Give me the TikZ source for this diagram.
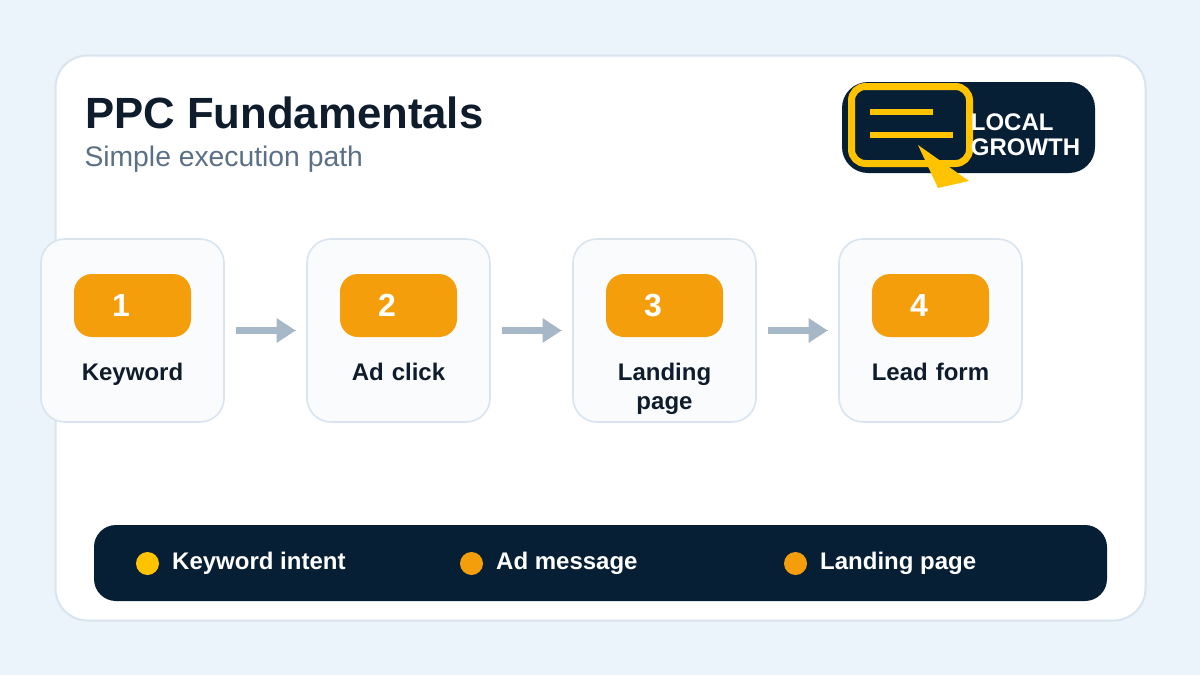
\documentclass[tikz,border=0pt]{standalone}
\usepackage{fontspec}
\setmainfont{Liberation Sans}
\usetikzlibrary{arrows.meta}
\definecolor{bgc}{HTML}{EBF3FB}
\definecolor{edgec}{HTML}{D9E4EF}
\definecolor{cardc}{HTML}{F9FBFD}
\definecolor{navy}{HTML}{071F35}
\definecolor{ink}{HTML}{0F1C2C}
\definecolor{subc}{HTML}{5B7086}
\definecolor{amber}{HTML}{F59E0B}
\definecolor{gold}{HTML}{FFC300}
\definecolor{arrowc}{HTML}{A6B7C7}
\tikzset{
 x=1pt,y=-1pt,
 card/.style={draw=edgec,line width=1.6pt,fill=cardc,rounded corners=24pt,minimum width=183pt,minimum height=183pt,inner sep=0pt,outer sep=0pt},
 badge/.style={fill=amber,rounded corners=18pt,minimum width=117pt,minimum height=63pt,inner sep=0pt,outer sep=0pt},
 num/.style={text=white,font=\bfseries\fontsize{32}{32}\selectfont,inner sep=0pt,anchor=base},
 lab/.style={text=ink,font=\bfseries\fontsize{24}{29.5}\selectfont,inner sep=0pt,align=center,anchor=base,text width=170pt},
 flow/.style={draw=arrowc,line width=6.5pt,-{Triangle[length=19pt,width=25pt,line width=0pt,fill=arrowc]},shorten <=12pt,shorten >=11.5pt,preaction={draw=arrowc,-}},
 legt/.style={text=white,font=\bfseries\fontsize{24}{24}\selectfont,inner sep=0pt,anchor=base west},
 dot/.style={circle,minimum size=23pt,inner sep=0pt,outer sep=0pt},
 logot/.style={text=white,font=\bfseries\fontsize{24}{24}\selectfont,inner sep=0pt,anchor=base west},
}
\begin{document}
\begin{tikzpicture}
\useasboundingbox (0,0) rectangle (1200,675);
\fill[bgc] (0,0) rectangle (1200,675);
\node[draw=edgec,line width=2pt,fill=white,rounded corners=32pt,minimum width=1090pt,minimum height=565pt,inner sep=0pt,outer sep=0pt] (panel) at (600.5,338) {};
\node[inner sep=0pt,anchor=base west,text=ink,font=\bfseries\fontsize{43.7}{44}\selectfont] (title) at (85,128) {PPC Fundamentals};
\node[inner sep=0pt,anchor=base west,text=subc,font=\fontsize{28.3}{28}\selectfont] (subtitle) at (84.3,166.2) {Simple execution path};
% logo
\node[fill=navy,rounded corners=26pt,minimum width=253pt,minimum height=91pt,inner sep=0pt,outer sep=0pt] (logo) at (968.5,127.5) {};
\node[draw=gold,line width=7pt,rounded corners=14pt,minimum width=118pt,minimum height=77pt,inner sep=0pt,outer sep=0pt] (screen) at (910.5,125) {};
\fill[gold] (870,109) rectangle (933,115);
\fill[gold] (870,132) rectangle (953,138);
\fill[gold] (918,145) -- (969,181) -- (938,188) -- cycle;
\node[logot] (logoa) at (970.7,130) {LOCAL};
\node[logot] (logob) at (970.7,155.5) {GROWTH};
% cards
\foreach \i/\cx/\t in {1/132.5/Keyword,2/398.5/Ad click,3/664.5/Landing\\page,4/930.5/Lead form}{
 \node[card] (card\i) at (\cx,330.5) {};
 \node[badge] (badge\i) at (\cx,305.5) {};
 \node[num] (num\i) at ({\cx-11.5},316) {\i};
 \node[lab] (lab\i) at (\cx,380.3) {\t};
}
\draw[flow] (card1.east) -- (card2.west);
\draw[flow] (card2.east) -- (card3.west);
\draw[flow] (card3.east) -- (card4.west);
% legend
\node[fill=navy,rounded corners=22pt,minimum width=1013pt,minimum height=76pt,inner sep=0pt,outer sep=0pt] (legend) at (600.5,563) {};
\node[dot,fill=gold] (d1) at (147.5,563.5) {};
\node[legt] (l1) at (172,569) {Keyword intent};
\node[dot,fill=amber] (d2) at (471.5,563.5) {};
\node[legt] (l2) at (496,569) {Ad message};
\node[dot,fill=amber] (d3) at (795.5,563.5) {};
\node[legt] (l3) at (820,569) {Landing page};
\end{tikzpicture}
\end{document}
